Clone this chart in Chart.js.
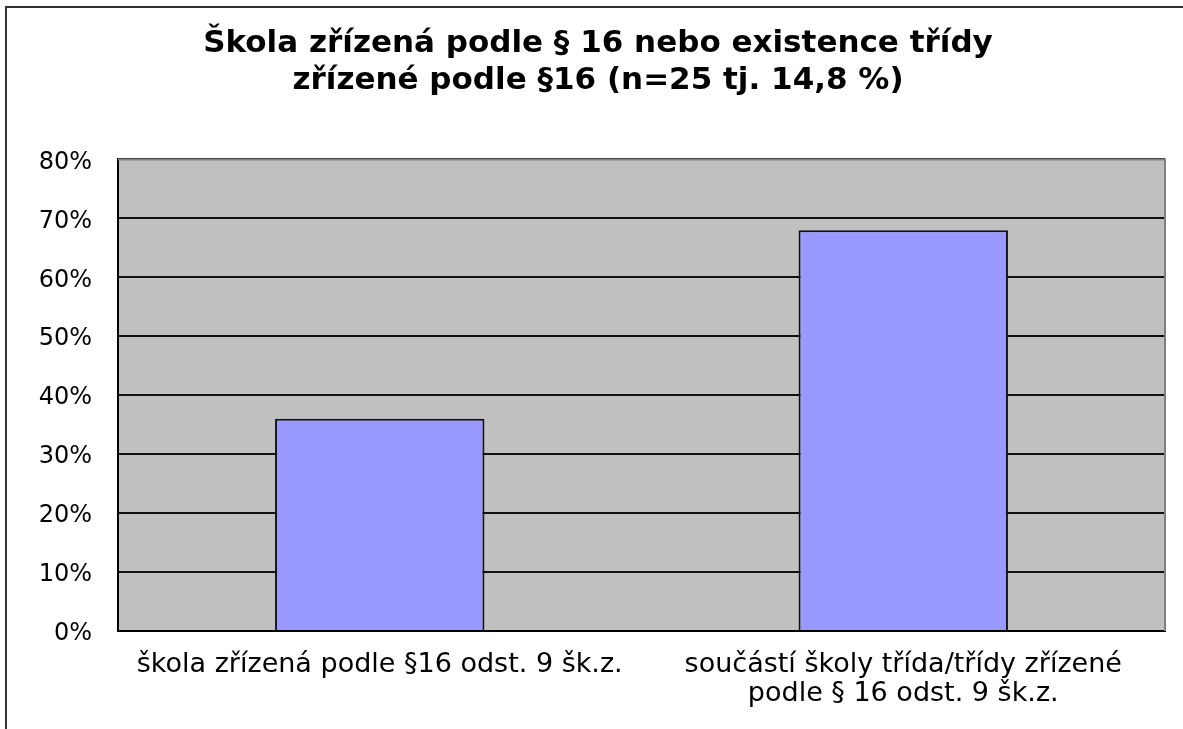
<!DOCTYPE html>
<html>
<head>
<meta charset="utf-8">
<script src="https://cdn.jsdelivr.net/npm/chart.js@4"></script>
<style>
  body { margin: 0; background: #fff; }
</style>
</head>
<body>
<canvas id="chart" width="1183" height="729"></canvas>
<script>
// Chart data
const titleLines = ['Škola zřízená podle § 16 nebo existence třídy', 'zřízené podle §16 (n=25 tj. 14,8 %)'];
const categories = [
    'škola zřízená podle §16 odst. 9 šk.z.',
    ['součástí školy třída/třídy zřízené', 'podle § 16 odst. 9 šk.z.']
];
const values = [36, 68];
const yMax = 80;
const yStep = 10;

// Gray plot background, outer frame and gray top/right edges
const framePlugin = {
    id: 'frame',
    beforeDraw(chart) {
        const ctx = chart.ctx;
        const a = chart.chartArea;
        ctx.save();
        ctx.fillStyle = '#fff';
        ctx.fillRect(0, 0, chart.width, chart.height);
        ctx.fillStyle = '#C0C0C0';
        ctx.fillRect(a.left, a.top, a.right - a.left, a.bottom - a.top);
        // outer frame (left and top only are visible)
        ctx.strokeStyle = '#333';
        ctx.lineWidth = 2;
        ctx.beginPath();
        ctx.moveTo(6, chart.height);
        ctx.lineTo(6, 7);
        ctx.lineTo(chart.width, 7);
        ctx.stroke();
        ctx.restore();
    },
    afterDatasetsDraw(chart) {
        const ctx = chart.ctx;
        const a = chart.chartArea;
        ctx.save();
        ctx.strokeStyle = '#808080';
        ctx.lineWidth = 2;
        ctx.beginPath();
        ctx.moveTo(a.left, a.top);
        ctx.lineTo(a.right, a.top);
        ctx.lineTo(a.right, a.bottom);
        ctx.stroke();
        ctx.restore();
    }
};

const ctx = document.getElementById('chart').getContext('2d');
new Chart(ctx, {
    type: 'bar',
    data: {
        labels: categories,
        datasets: [{
            data: values,
            backgroundColor: '#9999FF',
            borderColor: '#111',
            borderWidth: 2,
            categoryPercentage: 0.4,
            barPercentage: 1.0
        }]
    },
    options: {
        responsive: false,
        animation: false,
        layout: {
            padding: { left: 31, right: 18, top: 0, bottom: 0 }
        },
        plugins: {
            legend: { display: false },
            tooltip: { enabled: false },
            title: {
                display: true,
                text: titleLines,
                color: '#000',
                font: { family: 'DejaVu Sans', size: 31, weight: 'bold', lineHeight: 1.2 },
                padding: { top: 25, bottom: 60 }
            }
        },
        scales: {
            x: {
                grid: { display: false, drawTicks: false },
                border: { display: true, color: '#000', width: 2 },
                ticks: {
                    color: '#000',
                    font: { family: 'DejaVu Sans', size: 27, lineHeight: 1.07 },
                    padding: 20,
                    maxRotation: 0,
                    autoSkip: false
                },
                afterFit(scale) { scale.height = 98; }
            },
            y: {
                min: 0,
                max: yMax,
                grid: { color: '#111', lineWidth: 2, drawTicks: false },
                border: { display: true, color: '#000', width: 2 },
                ticks: {
                    stepSize: yStep,
                    color: '#000',
                    font: { family: 'DejaVu Sans', size: 24 },
                    padding: 26,
                    labelOffset: 3,
                    callback: v => v + '%'
                },
                afterFit(scale) { scale.width = 87; }
            }
        }
    },
    plugins: [framePlugin]
});
</script>
</body>
</html>
